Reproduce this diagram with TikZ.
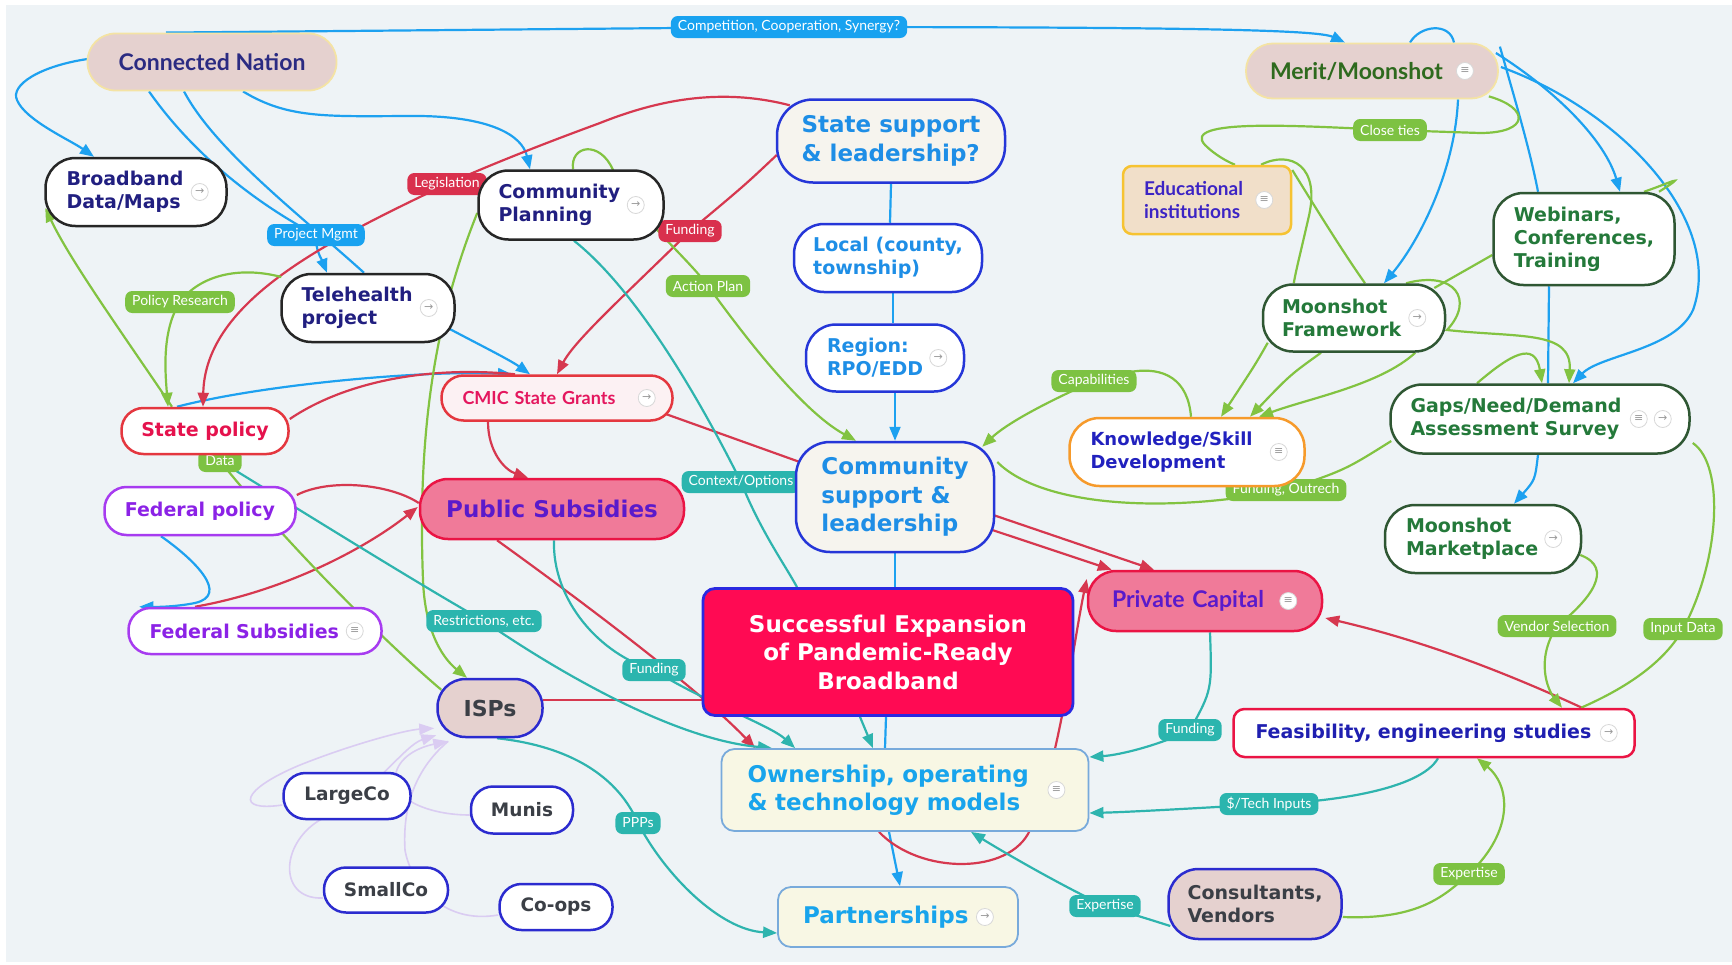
\documentclass[tikz,border=0pt]{standalone}
\usepackage{fontspec}
\setmainfont{DejaVu Sans}
\newfontfamily\lato{Lato}
\usetikzlibrary{arrows.meta,calc}
\pgfdeclarelayer{base}
\pgfdeclarelayer{lines}
\pgfsetlayers{base,lines,main}
\newcommand\fsz[2]{\fontsize{#1}{#2}\selectfont}
\definecolor{bgc}{HTML}{EEF3F6}
\definecolor{cBlue}{HTML}{1DA1F0}
\definecolor{cRed}{HTML}{D6384F}
\definecolor{cGreen}{HTML}{82C341}
\definecolor{cTeal}{HTML}{2EB4AE}
\definecolor{cLav}{HTML}{DACCF2}
\definecolor{navy}{HTML}{211F80}
\definecolor{nodeBlue}{HTML}{2536D8}
\definecolor{txtBlue}{HTML}{1E8EE6}
\definecolor{cream}{HTML}{F6F4EE}
\definecolor{ownFill}{HTML}{F8F7E4}
\definecolor{ownBorder}{HTML}{78AADB}
\definecolor{ownText}{HTML}{18A4EC}
\definecolor{tanFill}{HTML}{E5D1CF}
\definecolor{cnBorder}{HTML}{F4E3A4}
\definecolor{cnText}{HTML}{2B2B82}
\definecolor{meritText}{HTML}{2E6A1E}
\definecolor{dGreen}{HTML}{2F5733}
\definecolor{gText}{HTML}{24793A}
\definecolor{pinkFill}{HTML}{F07A99}
\definecolor{redBorder}{HTML}{EA1444}
\definecolor{purpText}{HTML}{5A1ACB}
\definecolor{spText}{HTML}{E5124D}
\definecolor{spBorder}{HTML}{E4373F}
\definecolor{purBorder}{HTML}{A73BF0}
\definecolor{purText}{HTML}{8B22E6}
\definecolor{cmicFill}{HTML}{FCF1F3}
\definecolor{cmicText}{HTML}{E4175E}
\definecolor{orBorder}{HTML}{F69A2B}
\definecolor{knText}{HTML}{2121BE}
\definecolor{eduFill}{HTML}{F1DFC9}
\definecolor{eduBorder}{HTML}{F6C332}
\definecolor{eduText}{HTML}{3C24C4}
\definecolor{feasText}{HTML}{1F1FB0}
\definecolor{succFill}{HTML}{FF0A53}
\definecolor{succBorder}{HTML}{2A29E0}
\definecolor{ispBorder}{HTML}{2B2BCF}
\definecolor{grayText}{HTML}{3B3F46}
\definecolor{lBlue}{HTML}{18A2F0}
\definecolor{lRed}{HTML}{D9304D}
\definecolor{lGreen}{HTML}{7DC242}
\definecolor{lTeal}{HTML}{2BB5AE}
\definecolor{icoGray}{HTML}{9A9A9A}
\definecolor{icoBorder}{HTML}{D8D8D8}
\begin{document}
\begin{tikzpicture}[x=1pt,y=-1pt,
  nd/.style={rectangle, line width=2.5pt, inner ysep=0pt, inner xsep=0pt, align=left, font=\bfseries\fsz{19}{23}},
  bigf/.style={font=\bfseries\fsz{23}{28.5}},
  blk/.style={nd, draw=black!85, fill=white, text=navy, rounded corners=30pt},
  bluenode/.style={nd, draw=nodeBlue, fill=white, text=txtBlue, rounded corners=30pt},
  grn/.style={nd, draw=dGreen, fill=white, text=gText, rounded corners=30pt},
  pur/.style={nd, draw=purBorder, fill=white, text=purText, rounded corners=22pt},
  isp/.style={nd, draw=ispBorder, fill=white, text=grayText, rounded corners=22pt},
  own/.style={nd, bigf, draw=ownBorder, line width=1.8pt, fill=ownFill, text=ownText, rounded corners=13pt},
  lbl/.style={rectangle, rounded corners=7pt, text=white, font=\lato\fsz{14}{14}, inner xsep=7pt, inner ysep=0pt, minimum height=22pt},
  ico/.style={circle, draw=icoBorder, line width=0.8pt, fill=white, inner sep=0pt, minimum size=17pt, text=icoGray, font=\fsz{11}{11}},
  ln/.style={line width=2.2pt},
  bl/.style={ln, draw=cBlue},
  rd/.style={ln, draw=cRed},
  gr/.style={ln, draw=cGreen},
  tl/.style={ln, draw=cTeal},
  lv/.style={line width=1.6pt, draw=cLav},
  arr/.style={-{Triangle[length=14pt,width=11pt]}},
  larr/.style={-{Triangle[length=15pt,width=11pt]}}
]
\useasboundingbox (0,0) rectangle (1732,964);
\begin{pgfonlayer}{base}
\fill[white] (0,0) rectangle (1732,964);
\fill[bgc] (6,5) rectangle (1732,962);
\end{pgfonlayer}

% ---------- connector labels ----------
\node[lbl, fill=lBlue] (Comp) at (789,27) {Competition, Cooperation, Synergy?};
\node[lbl, fill=lGreen] (CT) at (1390,130) {Close ties};
\node[lbl, fill=lRed] (Leg) at (447,184) {Legislation};
\node[lbl, fill=lBlue] (PM) at (316,235) {Project Mgmt};
\node[lbl, fill=lRed] (FundR) at (690,231) {Funding};
\node[lbl, fill=lGreen] (AP) at (708,286) {Action Plan};
\node[lbl, fill=lGreen] (PR) at (180,302) {Policy Research};
\node[lbl, fill=lGreen] (Data) at (220,461) {Data};
\node[lbl, fill=lTeal] (CtxO) at (741,482) {Context/Options};
\node[lbl, fill=lGreen] (Cap) at (1094,381) {Capabilities};
\node[lbl, fill=lGreen] (FO) at (1286,490) {Funding, Outrech};
\node[lbl, fill=lTeal] (Restr) at (484,621) {Restrictions, etc.};
\node[lbl, fill=lTeal] (FundT1) at (654,670) {Funding};
\node[lbl, fill=lGreen] (VS) at (1557,626) {Vendor Selection};
\node[lbl, fill=lGreen] (ID) at (1683,629) {Input Data};
\node[lbl, fill=lTeal] (FundT2) at (1190,730) {Funding};
\node[lbl, fill=lTeal] (Tech) at (1269,804) {\$/Tech Inputs};
\node[lbl, fill=lTeal] (PPP) at (638,823) {PPPs};
\node[lbl, fill=lTeal] (ExpT) at (1105,906) {Expertise};
\node[lbl, fill=lGreen] (ExpG) at (1469,874) {Expertise};

% ---------- nodes ----------
\node[nd, draw=cnBorder, line width=1.8pt, fill=tanFill, text=cnText, font=\lato\bfseries\fsz{23}{26}, rounded corners=28pt, minimum width=249pt, minimum height=57pt] (CN) at (212,62) {Connected Nation};
\node[nd, draw=cnBorder, line width=1.8pt, fill=tanFill, text=meritText, font=\lato\bfseries\fsz{23}{26}, rounded corners=27pt, minimum width=252pt, minimum height=55pt, text width=204pt, inner xsep=24pt] (Merit) at (1372,71) {Merit/Moonshot};

\node[blk, minimum width=181pt, minimum height=68pt, text width=139pt, inner xsep=21pt] (BDM) at (136,192) {Broadband\\Data/Maps};
\node[blk, minimum width=185pt, minimum height=69pt, text width=145pt, inner xsep=20pt] (CP) at (571,205) {Community\\Planning};
\node[blk, minimum width=173pt, minimum height=68pt, text width=133pt, inner xsep=20pt] (TH) at (368,308) {Telehealth\\project};

\node[bluenode, bigf, fill=cream, rounded corners=36pt, minimum width=228pt, minimum height=83pt] (SS) at (891,141) {State support\\\& leadership?};
\node[bluenode, minimum width=188pt, minimum height=68pt] (Local) at (888,258) {Local (county,\\township)};
\node[bluenode, minimum width=158pt, minimum height=67pt, text width=116pt, inner xsep=21pt] (Region) at (885,358) {Region:\\RPO/EDD};
\node[bluenode, bigf, fill=cream, rounded corners=34pt, minimum width=198pt, minimum height=110pt] (CS) at (895,497) {Community\\support \&\\leadership};

\node[nd, draw=spBorder, fill=cmicFill, text=cmicText, font=\lato\bfseries\fsz{18}{20}, rounded corners=22pt, minimum width=231pt, minimum height=45pt, text width=189pt, inner xsep=21pt] (CMIC) at (557,398) {CMIC State Grants};
\node[nd, draw=spBorder, fill=white, text=spText, rounded corners=22pt, minimum width=167pt, minimum height=46pt] (SP) at (205,431) {State policy};
\node[pur, minimum width=191pt, minimum height=48pt] (FP) at (200,511) {Federal policy};
\node[pur, minimum width=253pt, minimum height=46pt, text width=211pt, inner xsep=21pt] (FS) at (255,631) {Federal Subsidies};
\node[nd, bigf, draw=redBorder, fill=pinkFill, text=purpText, rounded corners=28pt, minimum width=264pt, minimum height=60pt] (PS) at (552,509) {Public Subsidies};

\node[nd, bigf, draw=succBorder, line width=2.8pt, fill=succFill, text=white, align=center, rounded corners=12pt, minimum width=370pt, minimum height=127pt] (Succ) at (888,652) {Successful Expansion\\of Pandemic-Ready\\Broadband};

\node[nd, draw=redBorder, fill=pinkFill, text=purpText, font=\lato\bfseries\fsz{23}{26}, rounded corners=28pt, minimum width=234pt, minimum height=60pt, text width=186pt, inner xsep=24pt] (PC) at (1205,601) {Private Capital};
\node[nd, draw=orBorder, fill=white, text=knText, font=\bfseries\fsz{18}{23}, rounded corners=30pt, minimum width=235pt, minimum height=68pt, text width=193pt, inner xsep=21pt] (Kn) at (1187,452) {Knowledge/Skill\\Development};
\node[nd, draw=eduBorder, fill=eduFill, text=eduText, font=\lato\bfseries\fsz{19}{23}, rounded corners=9pt, minimum width=168pt, minimum height=68pt, text width=126pt, inner xsep=21pt] (Edu) at (1207,200) {Educational\\institutions};

\node[grn, minimum width=181pt, minimum height=92pt] (Web) at (1584,239) {Webinars,\\Conferences,\\Training};
\node[grn, minimum width=182pt, minimum height=67pt, text width=144pt, inner xsep=19pt] (MF) at (1354,318) {Moonshot\\Framework};
\node[grn, rounded corners=32pt, minimum width=299pt, minimum height=69pt, text width=259pt, inner xsep=20pt] (Gaps) at (1540,419) {Gaps/Need/Demand\\Assessment Survey};
\node[grn, minimum width=196pt, minimum height=68pt, text width=154pt, inner xsep=21pt] (MP) at (1483,539) {Moonshot\\Marketplace};

\node[nd, draw=redBorder, fill=white, text=feasText, rounded corners=11pt, minimum width=401pt, minimum height=48pt, text width=357pt, inner xsep=22pt] (Feas) at (1434,733) {Feasibility, engineering studies};
\node[own, minimum width=367pt, minimum height=82pt, text width=315pt, inner xsep=26pt] (Own) at (905,790) {Ownership, operating\\\& technology models};
\node[own, minimum width=240pt, minimum height=60pt, text width=190pt, inner xsep=25pt] (Part) at (898,917) {Partnerships};

\node[isp, fill=tanFill, font=\bfseries\fsz{22}{24}, rounded corners=28pt, minimum width=105pt, minimum height=58pt] (ISP) at (490,708) {ISPs};
\node[isp, font=\bfseries\fsz{18.5}{22}, minimum width=127pt, minimum height=46pt] (LC) at (347,796) {LargeCo};
\node[isp, font=\bfseries\fsz{18.5}{22}, minimum width=102pt, minimum height=47pt] (Mun) at (522,810) {Munis};
\node[isp, font=\bfseries\fsz{18.5}{22}, minimum width=124pt, minimum height=45pt] (SC) at (386,890) {SmallCo};
\node[isp, font=\bfseries\fsz{18.5}{22}, minimum width=113pt, minimum height=46pt] (CO) at (556,907) {Co-ops};
\node[isp, fill=tanFill, rounded corners=30pt, minimum width=173pt, minimum height=70pt] (Cons) at (1255,904) {Consultants,\\Vendors};

% ---------- icons ----------
\node[ico] (iMerit) at ($(Merit.east)+(-34,0)$) {≡};
\node[ico] (iBDM) at ($(BDM.east)+(-28,0)$) {→};
\node[ico] (iCP) at ($(CP.east)+(-29,0)$) {→};
\node[ico] (iTH) at ($(TH.east)+(-27,0)$) {→};
\node[ico] (iRegion) at ($(Region.east)+(-27,0)$) {→};
\node[ico] (iCMIC) at ($(CMIC.east)+(-27,0)$) {→};
\node[ico] (iFS) at ($(FS.east)+(-28,0)$) {≡};
\node[ico] (iPC) at ($(PC.east)+(-35,0)$) {≡};
\node[ico] (iKn) at ($(Kn.east)+(-27,0)$) {≡};
\node[ico] (iEdu) at ($(Edu.east)+(-28,0)$) {≡};
\node[ico] (iMF) at ($(MF.east)+(-29,0)$) {→};
\node[ico] (iGapsA) at ($(Gaps.east)+(-52,0)$) {≡};
\node[ico] (iGapsB) at ($(Gaps.east)+(-28,0)$) {→};
\node[ico] (iMP) at ($(MP.east)+(-29,0)$) {→};
\node[ico] (iFeas) at ($(Feas.east)+(-27,0)$) {→};
\node[ico] (iOwn) at ($(Own.east)+(-33,0)$) {≡};
\node[ico] (iPart) at ($(Part.east)+(-34,0)$) {→};

% ---------- connectors ----------
\begin{pgfonlayer}{lines}
% blue
\draw[bl,arr] ($(CN.north)+(-46,0)$) -- (Comp.center) .. controls (1200,27) and (1318,30) .. ($(Merit.north)+(-27,0)$);
\draw[bl,arr] ($(CN.west)+(1,-3)$) .. controls (40,66) and (10,85) .. (17,100) .. controls (25,120) and (70,140) .. ($(BDM.north)+(-42,0)$);
\draw[bl,arr] ($(CN.south)+(31,0)$) .. controls (290,120) and (330,116) .. (420,116) .. controls (490,117) and (522,135) .. ($(CP.north)+(-41,0)$);
\draw[bl,arr] ($(CN.south)+(-63,0)$) .. controls (190,150) and (250,200) .. (PM.center) .. controls (315,250) and (322,260) .. ($(TH.north)+(-41,0)$);
\draw[bl] ($(CN.south)+(-28,0)$) .. controls (215,150) and (300,215) .. ($(TH.north)+(-4,0)$);
\draw[bl,arr] ($(TH.east)+(-6,21)$) .. controls (480,345) and (510,360) .. ($(CMIC.north)+(-27,0)$);
\draw[bl,arr] ($(SP.north)+(-28,0)$) .. controls (260,385) and (420,370) .. ($(CMIC.north)+(-45,0)$);
\draw[bl] (SS.south) -- ($(Local.north)+(2,0)$);
\draw[bl] ($(Local.south)+(5,0)$) -- ($(Region.north)+(8,0)$);
\draw[bl,arr] ($(Region.south)+(10,0)$) -- (CS.north);
\draw[bl] (CS.south) -- ($(Succ.north)+(7,0)$);
\draw[bl] ($(Succ.south)+(-2,0)$) -- ($(Own.north)+(-20,0)$);
\draw[bl,arr] ($(Own.south)+(-16,0)$) -- ($(Part.north)+(2,0)$);
\draw[bl,arr] ($(Merit.south)+(86,0)$) .. controls (1455,170) and (1420,240) .. ($(MF.north)+(30,0)$);
\draw[bl,arr] ($(Merit.east)+(-3,-18)$) .. controls (1555,90) and (1605,140) .. ($(Web.north)+(36,0)$);
\draw[bl,arr] ($(Merit.east)+(2,-4)$) .. controls (1620,110) and (1725,220) .. (1693,310) .. controls (1675,350) and (1600,355) .. ($(Gaps.north)+(33,0)$);
\draw[bl] ($(Merit.north east)+(1,4)$) .. controls (1515,100) and (1530,150) .. ($(Web.north)+(-46,0)$);
\draw[bl] ($(Web.south)+(-35,0)$) -- ($(Gaps.north)+(8,0)$);
\draw[bl] ($(Merit.north)+(38,0)$) .. controls (1420,25) and (1450,22) .. ($(Merit.north)+(82,0)$);
\draw[bl,arr] ($(Gaps.south)+(-2,0)$) .. controls (1535,480) .. ($(MP.north)+(31,0)$);
\draw[bl,arr] ($(FP.south)+(-39,0)$) .. controls (195,560) and (230,595) .. (195,603) .. controls (175,607) and (155,607) .. ($(FS.north west)+(12,0)$);
% red
\draw[rd,arr] ($(SS.north west)+(14,7)$) .. controls (730,90) and (670,95) .. (600,123) .. controls (540,145) and (490,165) .. (Leg.center) .. controls (330,240) and (205,300) .. ($(SP.north)+(-2,0)$);
\draw[rd,arr] ($(SS.west)+(1,14)$) .. controls (745,185) .. (FundR.center) .. controls (625,295) and (575,340) .. (CMIC.north);
\draw[rd] ($(SP.east)+(0,-12)$) .. controls (340,385) and (420,365) .. ($(CMIC.north)+(-42,0)$);
\draw[rd,arr] ($(CMIC.south)+(-69,0)$) .. controls (488,452) and (505,470) .. ($(PS.north)+(-24,0)$);
\draw[rd] ($(CMIC.east)+(-8,16)$) -- ($(CS.west)+(5,-35)$);
\draw[rd] ($(FP.east)+(0,-16)$) .. controls (330,478) and (390,484) .. ($(PS.west)+(0,-6)$);
\draw[rd,arr] ($(FS.north)+(-60,0)$) .. controls (290,590) and (370,545) .. ($(PS.west)+(-1,-2)$);
\draw[rd,arr] ($(PS.south)+(-55,0)$) .. controls (580,600) and (700,690) .. ($(Own.north)+(-150,0)$);
\draw[rd] ($(ISP.east)+(-1,-8)$) -- ($(Succ.west)+(0,48)$);
\draw[rd,arr] ($(CS.east)+(-2,18)$) -- ($(PC.north)+(-51,0)$);
\draw[rd,arr] ($(CS.east)+(-3,33)$) -- ($(PC.north west)+(25,0)$);
\draw[rd,arr] ($(Own.south)+(-26,0)$) .. controls (920,875) and (1010,875) .. (1030,830) .. controls (1060,760) and (1072,650) .. ($(PC.west)+(0,-22)$);
\draw[rd,arr] ($(Feas.north)+(148,0)$) .. controls (1500,670) and (1420,640) .. ($(PC.east)+(2,17)$);
% green
\draw[gr] ($(Merit.south east)+(-10,-3)$) .. controls (1530,108) and (1530,133) .. (1480,133) -- (CT.center) .. controls (1300,126) and (1180,118) .. (1205,145) .. controls (1215,155) and (1228,162) .. ($(Edu.north)+(28,0)$);
\draw[gr] ($(Edu.north)+(54,0)$) .. controls (1290,150) and (1322,165) .. (1308,220) .. controls (1300,255) and (1296,270) .. ($(MF.north west)+(32,0)$);
\draw[gr] ($(Edu.east)+(0,-30)$) .. controls (1320,215) and (1345,255) .. ($(MF.north)+(11,0)$);
\draw[gr,arr] ($(MF.south west)+(6,-10)$) .. controls (1255,365) .. ($(Kn.north)+(34,0)$);
\draw[gr,arr] ($(MF.south)+(-33,0)$) .. controls (1290,375) .. ($(Kn.north)+(63,0)$);
\draw[gr,arr] ($(MF.south east)+(-31,0)$) .. controls (1380,385) and (1310,398) .. ($(Kn.north)+(72,0)$);
\draw[gr] ($(Web.west)+(0,16)$) -- ($(MF.east)+(-12,-30)$);
\draw[gr,arr] ($(MF.north)+(52,0)$) .. controls (1455,270) and (1475,300) .. (1447,330) .. controls (1520,338) and (1572,330) .. ($(Gaps.north)+(29,0)$);
\draw[gr,arr] ($(Gaps.north)+(-63,0)$) .. controls (1510,355) and (1535,340) .. ($(Gaps.north)+(2,0)$);
\draw[gr] ($(Web.north)+(60,0)$) .. controls (1670,183) and (1690,172) .. ($(Web.north)+(75,0)$);
\draw[gr] ($(Gaps.west)+(2,22)$) .. controls (1345,470) .. (FO.center) .. controls (1160,515) and (1040,505) .. ($(CS.east)+(2,-35)$);
\draw[gr,arr] ($(Kn.north)+(4,0)$) .. controls (1188,380) and (1165,366) .. (1130,372) -- (Cap.center) .. controls (1040,405) and (1005,425) .. ($(CS.north east)+(-13,6)$);
\draw[gr,arr] ($(CP.north)+(2,0)$) .. controls (570,145) and (600,140) .. (613,170) .. controls (640,220) and (685,255) .. (AP.center) .. controls (740,330) and (800,410) .. ($(CS.north)+(-39,0)$);
\draw[gr,arr] ($(CP.west)+(0,8)$) .. controls (430,330) and (418,450) .. (423,580) .. controls (425,635) and (445,660) .. ($(ISP.north)+(-23,0)$);
\draw[gr,arr] ($(TH.west)+(1,-31)$) .. controls (240,266) and (200,275) .. (PR.center) .. controls (162,330) and (165,370) .. ($(SP.north)+(-37,0)$);
\draw[gr,arr] ($(SP.north)+(-33,0)$) .. controls (120,330) and (70,260) .. ($(BDM.west)+(1,16)$);
\draw[gr] (SP.south) -- (Data.center) .. controls (300,560) and (400,655) .. ($(ISP.north west)+(5,12)$);
\draw[gr,arr] ($(Cons.east)+(0,13)$) .. controls (1420,920) and (1445,895) .. (ExpG.center) .. controls (1515,830) and (1510,785) .. ($(Feas.south)+(43,0)$);
\draw[gr,arr] ($(MP.east)+(-2,16)$) .. controls (1615,568) and (1590,600) .. (VS.center) .. controls (1535,660) and (1548,690) .. ($(Feas.north)+(128,0)$);
\draw[gr] ($(Gaps.east)+(2,24)$) .. controls (1725,465) and (1720,560) .. (ID.center) .. controls (1660,670) and (1610,695) .. ($(Feas.north)+(147,0)$);
% teal
\draw[tl] ($(CP.south)+(3,0)$) .. controls (630,285) and (690,380) .. (CtxO.center) .. controls (760,530) and (785,565) .. ($(Succ.north)+(-91,0)$);
\draw[tl,arr] (Data.center) .. controls (300,510) and (420,585) .. (Restr.center) .. controls (570,680) and (680,740) .. ($(Own.north)+(-133,0)$);
\draw[tl,arr] ($(PS.south)+(2,0)$) .. controls (552,600) and (600,655) .. (FundT1.center) .. controls (700,700) and (770,725) .. ($(Own.north)+(-110,0)$);
\draw[tl,arr] ($(Succ.south)+(-28,0)$) -- ($(Own.north)+(-32,0)$);
\draw[tl,arr] ($(ISP.south)+(7,0)$) .. controls (560,745) and (615,770) .. (PPP.center) .. controls (665,875) and (720,930) .. ($(Part.west)+(0,16)$);
\draw[tl,arr] ($(PC.south)+(5,0)$) .. controls (1212,690) .. (FundT2.center) .. controls (1160,745) and (1120,755) .. ($(Own.east)+(0,-33)$);
\draw[tl,arr] ($(Feas.south)+(4,0)$) .. controls (1420,790) and (1330,802) .. (Tech.center) .. controls (1200,808) and (1130,812) .. ($(Own.east)+(0,23)$);
\draw[tl,arr] ($(Cons.west)+(3,22)$) .. controls (1145,918) .. (ExpT.center) .. controls (1060,885) and (1000,850) .. ($(Own.south)+(66,0)$);
% lavender
\draw[lv,larr] ($(LC.west)+(0,9)$) .. controls (235,812) and (240,790) .. (300,765) .. controls (350,745) and (405,730) .. ($(ISP.south west)+(-2,-10)$);
\draw[lv,larr] ($(Mun.west)+(0,5)$) .. controls (430,815) and (395,800) .. (395,780) .. controls (395,760) and (415,748) .. ($(ISP.south west)+(12,3)$);
\draw[lv,larr] ($(SC.west)+(0,8)$) .. controls (275,900) and (280,835) .. (330,815) .. controls (375,790) and (405,745) .. ($(ISP.south west)+(0,-3)$);
\draw[lv] ($(CO.west)+(0,8)$) .. controls (440,925) and (410,880) .. (405,850) .. controls (402,800) and (420,765) .. ($(ISP.south west)+(12,3)$);
\end{pgfonlayer}
\end{tikzpicture}
\end{document}
